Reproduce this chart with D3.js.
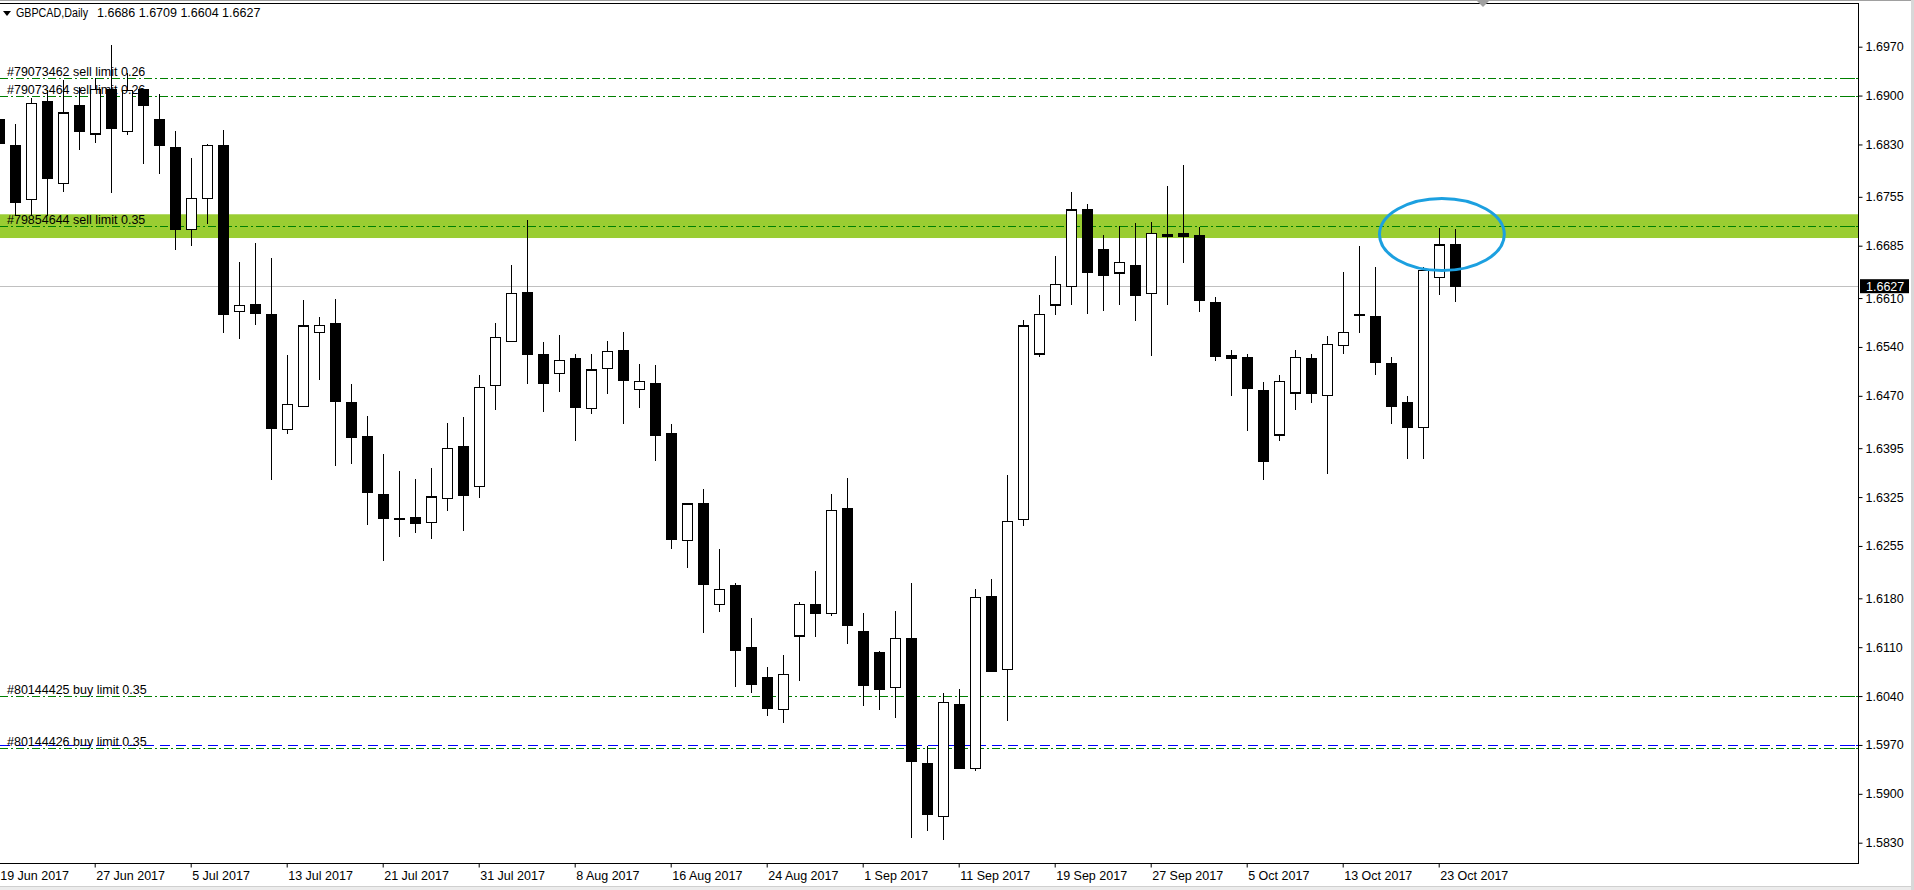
<!DOCTYPE html>
<html>
<head>
<meta charset="utf-8">
<script src="https://cdn.jsdelivr.net/npm/d3@7"></script>
<style>
  html, body { margin: 0; padding: 0; background: #fff; overflow: hidden; }
  text { font-family: "Liberation Sans", Arial, sans-serif; font-size: 12.5px; fill: #000; }
</style>
</head>
<body>
<svg id="chart" width="1914" height="890"></svg>
<script>
// daily bars, 19 Jun 2017 .. 24 Oct 2017 (weekdays)
const dateLabels = ["19 Jun 2017", "27 Jun 2017", "5 Jul 2017", "13 Jul 2017", "21 Jul 2017",
  "31 Jul 2017", "8 Aug 2017", "16 Aug 2017", "24 Aug 2017", "1 Sep 2017", "11 Sep 2017",
  "19 Sep 2017", "27 Sep 2017", "5 Oct 2017", "13 Oct 2017", "23 Oct 2017"];

const openP = [1.6865, 1.6829, 1.6751, 1.6892, 1.6774, 1.6886, 1.6845, 1.6908, 1.6849, 1.6908,
  1.6865, 1.6826, 1.6708, 1.6753, 1.6828, 1.6591, 1.6601, 1.6587, 1.6422, 1.6455,
  1.6561, 1.6573, 1.6461, 1.6411, 1.6328, 1.6294, 1.6296, 1.6289, 1.6323, 1.6397,
  1.6340, 1.6485, 1.6548, 1.6618, 1.6529, 1.6502, 1.6524, 1.6452, 1.6509, 1.6535,
  1.6479, 1.6488, 1.6416, 1.6263, 1.6316, 1.6171, 1.6198, 1.6109, 1.6066, 1.6021,
  1.6126, 1.6171, 1.6158, 1.6308, 1.6133, 1.6102, 1.6052, 1.6123, 1.5943, 1.5867,
  1.6028, 1.5936, 1.6183, 1.6078, 1.6293, 1.6530, 1.6600, 1.6626, 1.6736, 1.6680,
  1.6646, 1.6657, 1.6617, 1.6699, 1.6702, 1.6700, 1.6603, 1.6527, 1.6525, 1.6478,
  1.6414, 1.6474, 1.6523, 1.6471, 1.6542, 1.6586, 1.6584, 1.6516, 1.6460, 1.6425,
  1.6640, 1.6686];
const highP = [1.6876, 1.6859, 1.6896, 1.6908, 1.6922, 1.6913, 1.6925, 1.6972, 1.6932, 1.6910,
  1.6902, 1.6849, 1.6811, 1.6830, 1.6851, 1.6661, 1.6689, 1.6668, 1.6528, 1.6607,
  1.6583, 1.6609, 1.6487, 1.6441, 1.6387, 1.6362, 1.6351, 1.6367, 1.6431, 1.6440,
  1.6500, 1.6574, 1.6657, 1.6722, 1.6547, 1.6557, 1.6530, 1.6530, 1.6548, 1.6561,
  1.6515, 1.6514, 1.6430, 1.6316, 1.6337, 1.6251, 1.6202, 1.6152, 1.6082, 1.6099,
  1.6175, 1.6219, 1.6329, 1.6352, 1.6159, 1.6104, 1.6162, 1.6202, 1.5968, 1.6044,
  1.6050, 1.6194, 1.6207, 1.6356, 1.6579, 1.6614, 1.6670, 1.6762, 1.6745, 1.6700,
  1.6713, 1.6717, 1.6719, 1.6770, 1.6800, 1.6712, 1.6612, 1.6535, 1.6530, 1.6490,
  1.6500, 1.6535, 1.6530, 1.6555, 1.6648, 1.6684, 1.6655, 1.6525, 1.6470, 1.6655,
  1.6710, 1.6709];
const lowP = [1.6822, 1.6727, 1.6727, 1.6727, 1.6762, 1.6822, 1.6832, 1.6761, 1.6844, 1.6802,
  1.6788, 1.6679, 1.6684, 1.6716, 1.6560, 1.6551, 1.6571, 1.6349, 1.6415, 1.6454,
  1.6493, 1.6369, 1.6372, 1.6285, 1.6234, 1.6268, 1.6273, 1.6265, 1.6305, 1.6277,
  1.6323, 1.6449, 1.6547, 1.6487, 1.6447, 1.6476, 1.6406, 1.6444, 1.6473, 1.6430,
  1.6452, 1.6376, 1.6250, 1.6223, 1.6130, 1.6160, 1.6053, 1.6045, 1.6012, 1.6002,
  1.6062, 1.6124, 1.6154, 1.6114, 1.6026, 1.6020, 1.6008, 1.5837, 1.5847, 1.5834,
  1.5936, 1.5933, 1.6074, 1.6004, 1.6283, 1.6526, 1.6586, 1.6600, 1.6587, 1.6591,
  1.6600, 1.6577, 1.6527, 1.6600, 1.6660, 1.6590, 1.6520, 1.6470, 1.6420, 1.6350,
  1.6405, 1.6450, 1.6460, 1.6358, 1.6530, 1.6560, 1.6500, 1.6430, 1.6380, 1.6380,
  1.6614, 1.6604];
const closeP = [1.6832, 1.6747, 1.6889, 1.6782, 1.6875, 1.6848, 1.6909, 1.6853, 1.6907, 1.6886,
  1.6828, 1.6709, 1.6753, 1.6829, 1.6586, 1.6599, 1.6588, 1.6424, 1.6458, 1.6570,
  1.6571, 1.6462, 1.6411, 1.6331, 1.6294, 1.6293, 1.6287, 1.6325, 1.6395, 1.6327,
  1.6482, 1.6554, 1.6617, 1.6530, 1.6488, 1.6521, 1.6454, 1.6507, 1.6534, 1.6492,
  1.6491, 1.6413, 1.6264, 1.6315, 1.6200, 1.6193, 1.6105, 1.6057, 1.6022, 1.6071,
  1.6171, 1.6158, 1.6306, 1.6141, 1.6055, 1.6050, 1.6122, 1.5946, 1.5870, 1.6031,
  1.5937, 1.6181, 1.6076, 1.6290, 1.6570, 1.6586, 1.6629, 1.6736, 1.6647, 1.6643,
  1.6661, 1.6614, 1.6702, 1.6701, 1.6699, 1.6607, 1.6526, 1.6523, 1.6481, 1.6376,
  1.6490, 1.6525, 1.6474, 1.6544, 1.6561, 1.6585, 1.6518, 1.6455, 1.6425, 1.6649,
  1.6686, 1.6627];

const priceTicks = [1.6970, 1.6900, 1.6830, 1.6755, 1.6685, 1.6610, 1.6540, 1.6470, 1.6395,
  1.6325, 1.6255, 1.6180, 1.6110, 1.6040, 1.5970, 1.5900, 1.5830];

const orderNames = ["#79073462 sell limit 0.26", "#79073464 sell limit 0.26",
  "#79854644 sell limit 0.35", "#80144425 buy limit 0.35", "#80144426 buy limit 0.35"];
const orderPrices = [1.6925, 1.6899, 1.6713, 1.6040, 1.5966];
const bluePrice = 1.5970;
const zonePrices = [1.6696, 1.6730];
const lastPrice = 1.6627;
const headerText = ["GBPCAD,Daily", "1.6686 1.6709 1.6604 1.6627"];
// ellipse annotation: centre bar index / price, radius in bars / price
const circleMark = [90.2, 1.6701, 3.9, 0.00516];

const W = 1914, H = 890;
const plotR = 1858, plotT = 3, plotB = 863;

const svg = d3.select('#chart');
svg.append('rect').attr('width', W).attr('height', H).attr('fill', '#fff');

const x = d3.scaleLinear().domain([0, 91]).range([-1.3, 1454.7]);
const y = d3.scaleLinear().domain([1.5830, 1.6970]).range([842.7, 46.7]);

svg.append('clipPath').attr('id', 'plotClip')
  .append('rect').attr('x', 0).attr('y', plotT).attr('width', plotR).attr('height', plotB - plotT);

const plot = svg.append('g').attr('clip-path', 'url(#plotClip)');

// green zone
plot.append('rect')
  .attr('x', 0).attr('width', plotR)
  .attr('y', y(zonePrices[1]))
  .attr('height', y(zonePrices[0]) - y(zonePrices[1]))
  .attr('fill', '#9acd32');

// last price line
plot.append('line')
  .attr('x1', 0).attr('x2', plotR)
  .attr('y1', Math.round(y(lastPrice)) + 0.5).attr('y2', Math.round(y(lastPrice)) + 0.5)
  .attr('stroke', '#c0c0c0');

// order lines
plot.selectAll('line.order')
  .data(orderPrices)
  .enter()
  .append('line')
  .classed('order', true)
  .attr('x1', 0).attr('x2', plotR)
  .attr('y1', d => Math.round(y(d)) + 0.5)
  .attr('y2', d => Math.round(y(d)) + 0.5)
  .attr('stroke', '#008000')
  .attr('stroke-dasharray', '8,3,2,3');

plot.append('line')
  .attr('x1', 0).attr('x2', plotR)
  .attr('y1', Math.round(y(bluePrice)) + 0.5).attr('y2', Math.round(y(bluePrice)) + 0.5)
  .attr('stroke', '#0000ff')
  .attr('stroke-dasharray', '10,6');

// candles
const bars = d3.range(openP.length).map(i => ({
  i: i, o: openP[i], h: highP[i], l: lowP[i], c: closeP[i]
}));

const cg = plot.append('g').attr('shape-rendering', 'crispEdges');

cg.selectAll('line.wick')
  .data(bars)
  .enter()
  .append('line')
  .classed('wick', true)
  .attr('x1', d => Math.round(x(d.i)) + 0.5)
  .attr('x2', d => Math.round(x(d.i)) + 0.5)
  .attr('y1', d => y(d.h))
  .attr('y2', d => y(d.l))
  .attr('stroke', '#000');

cg.selectAll('rect.body')
  .data(bars)
  .enter()
  .append('rect')
  .classed('body', true)
  .attr('x', d => Math.round(x(d.i)) - 4.5)
  .attr('width', 10)
  .attr('y', d => y(Math.max(d.o, d.c)))
  .attr('height', d => Math.max(1, Math.abs(y(d.o) - y(d.c))))
  .attr('fill', d => d.c >= d.o ? '#fff' : '#000')
  .attr('stroke', '#000')
  .attr('stroke-width', 1.2);

// order labels
plot.selectAll('text.orderLbl')
  .data(orderPrices)
  .enter()
  .append('text')
  .classed('orderLbl', true)
  .attr('x', 7)
  .attr('y', d => y(d) - 2)
  .text((d, i) => orderNames[i]);

// ellipse annotation
plot.append('ellipse')
  .attr('cx', x(circleMark[0]))
  .attr('cy', y(circleMark[1]))
  .attr('rx', x(circleMark[2]) - x(0))
  .attr('ry', y(0) - y(circleMark[3]))
  .attr('fill', 'none')
  .attr('stroke', '#1ca0e0')
  .attr('stroke-width', 3);

// frame
svg.append('line').attr('x1', 0).attr('x2', W).attr('y1', 0.5).attr('y2', 0.5).attr('stroke', '#a0a0a0');
svg.append('line').attr('x1', 0).attr('x2', plotR + 0.5).attr('y1', plotT + 0.5).attr('y2', plotT + 0.5).attr('stroke', '#000');
svg.append('line').attr('x1', plotR + 0.5).attr('x2', plotR + 0.5).attr('y1', plotT).attr('y2', plotB + 1).attr('stroke', '#000');
svg.append('line').attr('x1', 0).attr('x2', plotR + 1).attr('y1', plotB + 0.5).attr('y2', plotB + 0.5).attr('stroke', '#000');

// price axis
const yAxis = d3.axisRight(y)
  .tickValues(priceTicks)
  .tickFormat(d3.format('.4f'))
  .tickSize(4)
  .tickSizeOuter(0);

const yg = svg.append('g')
  .attr('transform', `translate(${plotR + 0.5},0)`)
  .call(yAxis);
yg.select('.domain').remove();
yg.attr('font-family', null).attr('font-size', null);
yg.selectAll('line').attr('stroke', '#000');
yg.selectAll('text').attr('x', 7);

// marks of the order levels on the price scale
svg.selectAll('line.axMark')
  .data(orderPrices)
  .enter()
  .append('line')
  .classed('axMark', true)
  .attr('x1', plotR - 12).attr('x2', plotR - 3)
  .attr('y1', d => Math.round(y(d)) + 0.5)
  .attr('y2', d => Math.round(y(d)) + 0.5)
  .attr('stroke', '#008000');
svg.append('line')
  .attr('x1', plotR - 12).attr('x2', plotR - 3)
  .attr('y1', Math.round(y(bluePrice)) + 0.5).attr('y2', Math.round(y(bluePrice)) + 0.5)
  .attr('stroke', '#0000ff');

// last price tag
svg.append('rect')
  .attr('x', plotR + 2).attr('y', y(lastPrice) - 7)
  .attr('width', 49).attr('height', 14)
  .attr('fill', '#000');
svg.append('text')
  .attr('x', plotR + 8).attr('y', y(lastPrice) + 4.5)
  .style('fill', '#fff')
  .text(d3.format('.4f')(lastPrice));

// time axis
const xAxis = d3.axisBottom(x)
  .tickValues(d3.range(0, openP.length, 6))
  .tickFormat((d, i) => dateLabels[i])
  .tickSize(4)
  .tickSizeOuter(0);

const xg = svg.append('g')
  .attr('transform', `translate(0,${plotB + 0.5})`)
  .call(xAxis);
xg.select('.domain').remove();
xg.attr('font-family', null).attr('font-size', null);
xg.selectAll('.tick line').attr('stroke', '#000');
xg.selectAll('.tick text')
  .attr('text-anchor', 'start')
  .attr('x', 1)
  .attr('y', 16)
  .attr('dy', null);

// header
svg.append('path').attr('d', 'M3,11 L11,11 L7,16 Z').attr('fill', '#000');
svg.append('text').attr('x', 16).attr('y', 17)
  .attr('textLength', 72).attr('lengthAdjust', 'spacingAndGlyphs')
  .text(headerText[0]);
svg.append('text').attr('x', 97).attr('y', 17).text(headerText[1]);

// chart shift marker
svg.append('path').attr('d', 'M1477,1 L1489,1 L1483,7 Z').attr('fill', '#a0a0a0');

// window bottom / right edges
svg.append('rect').attr('x', 0).attr('y', 886).attr('width', W).attr('height', 4).attr('fill', '#ececec');
svg.append('line').attr('x1', 0).attr('x2', W).attr('y1', 886.5).attr('y2', 886.5).attr('stroke', '#d0d0d0');
svg.append('rect').attr('x', 1911).attr('y', 0).attr('width', 3).attr('height', H).attr('fill', '#d8d8d8');
</script>
</body>
</html>
